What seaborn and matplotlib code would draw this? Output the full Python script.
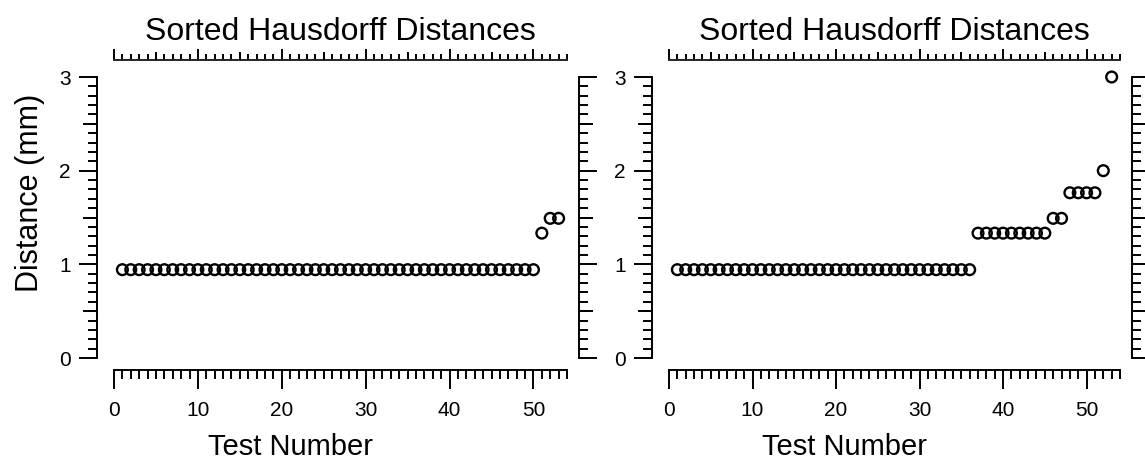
import numpy as np
import pandas as pd
import seaborn as sns
import matplotlib.pyplot as plt
from matplotlib.ticker import MultipleLocator, FixedLocator, NullFormatter

# sorted Hausdorff distances (mm), one value per test
left_dist = [0.943] * 50 + [1.333, 1.491, 1.491]
right_dist = [0.943] * 36 + [1.333] * 9 + [1.491] * 2 + [1.764] * 4 + [2.0, 3.0]
x_ticks = [0, 10, 20, 30, 40, 50]
y_ticks = [0, 1, 2, 3]

sns.set_style("ticks")
plt.rcParams['font.family'] = ['Liberation Sans', 'DejaVu Sans']
plt.rcParams.update({"text.color": "black", "axes.labelcolor": "black",
                     "xtick.color": "black", "ytick.color": "black"})

W, H = 1145, 465
fig = plt.figure(figsize=(W / 100, H / 100), dpi=100)
axL = fig.add_axes([114 / W, 1 - 358 / H, 453 / W, 281 / H])
axR = fig.add_axes([669 / W, 1 - 358 / H, 451 / W, 281 / H])

LW = 1.4


def style(ax, wpx):
    ax.set_xlim(0, 54)
    ax.set_ylim(0, 3)
    ax.set_xlabel("Test Number", fontsize=21)
    ax.xaxis.set_label_coords((290 - 114) / 453, -75 / 281)
    ax.set_title("Sorted Hausdorff Distances", fontsize=23, pad=27)

    for s in ["left", "right", "bottom", "top"]:
        ax.spines[s].set_linewidth(LW)
        ax.spines[s].set_color("black")
    ax.spines["top"].set_visible(False)
    ax.spines["left"].set_position(("outward", 12.2))
    ax.spines["right"].set_position(("outward", 8.6))
    ax.spines["bottom"].set_position(("outward", 8.6))

    ax.set_xticks(x_ticks)
    ax.set_yticks(y_ticks)
    ax.xaxis.set_minor_locator(MultipleLocator(1))
    ax.yaxis.set_minor_locator(MultipleLocator(0.1))
    ax.tick_params(axis="x", which="major", length=14, width=LW, labelsize=15, pad=8, top=False)
    ax.tick_params(axis="x", which="minor", length=6.5, width=LW, top=False)
    ax.tick_params(axis="y", which="major", length=13, width=LW, labelsize=15, pad=6,
                   left=True, right=True, labelright=False)
    ax.tick_params(axis="y", which="minor", length=6.5, width=LW, left=True, right=True)

    # medium ticks at the halves on both y sides
    for loc in [-17 / wpx, 1 + 12 / wpx]:
        sec = ax.secondary_yaxis(loc)
        sec.spines[:].set_visible(False)
        sec.yaxis.set_major_locator(FixedLocator([0.5, 1.5, 2.5]))
        sec.yaxis.set_major_formatter(NullFormatter())
        sec.tick_params(length=10, width=LW)

    # detached top axis
    top = ax.secondary_xaxis(1 + 17 / 281)
    top.spines[:].set_linewidth(LW)
    top.xaxis.set_major_locator(MultipleLocator(10))
    top.xaxis.set_minor_locator(MultipleLocator(1))
    top.xaxis.set_major_formatter(NullFormatter())
    top.tick_params(which="major", length=8, width=LW)
    top.tick_params(which="minor", length=4, width=LW)
    topm = ax.secondary_xaxis(1 + 17 / 281)
    topm.spines[:].set_visible(False)
    topm.xaxis.set_major_locator(FixedLocator([5, 15, 25, 35, 45]))
    topm.xaxis.set_major_formatter(NullFormatter())
    topm.tick_params(length=6, width=LW)


for ax, dist, wpx in [(axL, left_dist, 453), (axR, right_dist, 451)]:
    df = pd.DataFrame({"test": np.arange(1, len(dist) + 1), "dist": dist})
    sns.scatterplot(data=df, x="test", y="dist", ax=ax, s=60, marker="o",
                    facecolor="none", edgecolor="black", linewidth=1.7, clip_on=False)
    style(ax, wpx)
    ax.set_ylabel("")

axL.set_ylabel("Distance (mm)", fontsize=22, va="center")
axL.yaxis.set_label_coords(-84 / 453, (358 - 193) / 281)

fig.savefig("out.png", dpi=100)
